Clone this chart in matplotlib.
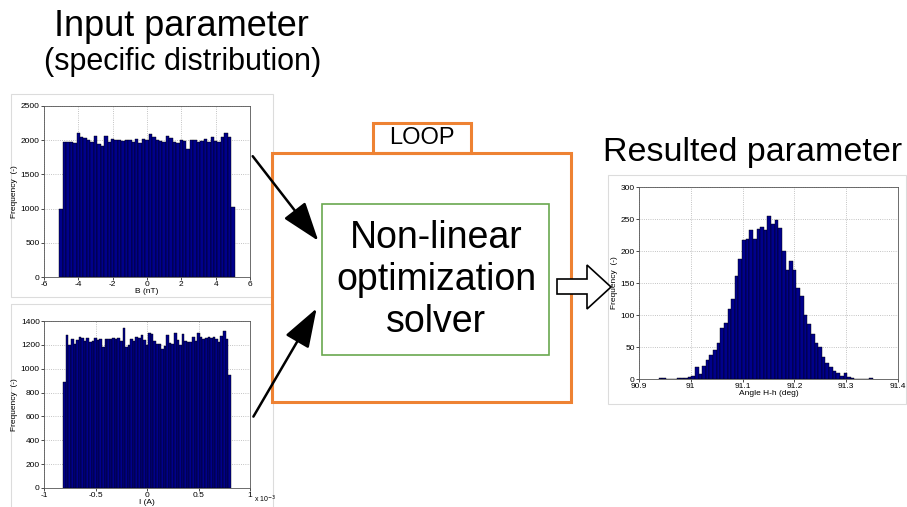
import numpy as np
import matplotlib
matplotlib.use("Agg")
import matplotlib.pyplot as plt
from matplotlib.patches import Rectangle, FancyArrowPatch, Polygon
from matplotlib.ticker import FuncFormatter

plt.rcParams['font.family'] = ['Liberation Sans', 'DejaVu Sans']
plt.rcParams['axes.unicode_minus'] = False

# input B (nT): uniform on [-5, 5], counts per bin
b_counts = [1000, 1980, 1970, 1975, 1960, 2100, 2050, 2030, 2000, 1980, 2060,
            1940, 1920, 2060, 1970, 2020, 2000, 2010, 1990, 2000, 2000, 1970,
            2020, 1960, 2020, 2010, 2090, 2050, 2010, 1990, 1970, 2060, 2030,
            1980, 1960, 2000, 1990, 1870, 2000, 2000, 1980, 1990, 2020, 1980,
            2040, 1990, 1980, 2050, 2100, 2050, 1020]
b_range = (-5, 5)

# input I (A): uniform on [-0.8e-3, 0.8e-3]
i_counts = [890, 1280, 1200, 1250, 1210, 1240, 1270, 1255, 1230, 1260, 1220,
            1230, 1260, 1240, 1250, 1180, 1245, 1245, 1250, 1260, 1245, 1260,
            1235, 1340, 1180, 1200, 1245, 1235, 1270, 1260, 1280, 1240, 1200,
            1300, 1290, 1230, 1210, 1205, 1165, 1190, 1280, 1215, 1210, 1300,
            1240, 1200, 1290, 1230, 1220, 1225, 1270, 1230, 1300, 1270, 1250,
            1260, 1270, 1255, 1270, 1245, 1220, 1275, 1320, 1250, 950]
i_range = (-0.8e-3, 0.8e-3)

# output angle H-h (deg)
angle_start = 90.938
angle_width = 0.007
angle_counts = [1, 1, 0, 0, 0, 1, 1, 2, 3, 5,
                18, 8, 20, 30, 38, 46, 56, 80, 88, 110, 125, 161, 187, 217, 218,
                233, 218, 234, 238, 233, 254,
                242, 248, 236, 200, 170, 185, 170, 142, 130, 100, 86, 70, 57,
                50, 35, 25, 18, 13, 10, 5, 10, 3, 1, 0, 0, 0, 0, 1]

W, H = 907, 507
BAR = '#00008B'
ORANGE = '#EE8233'
GREEN = '#6AA84F'


def px_axes(fig, x0, y0, x1, y1):
    # pixel box (top-left origin) -> figure axes
    return fig.add_axes([x0 / W, 1 - y1 / H, (x1 - x0) / W, (y1 - y0) / H])


def style_hist(ax, xlabel):
    ax.grid(True, linestyle=':', color='#b0b0b0', linewidth=0.6)
    ax.set_axisbelow(True)
    ax.tick_params(labelsize=6, length=2, width=0.5, pad=1)
    for s in ax.spines.values():
        s.set_linewidth(0.6)
        s.set_color('#555555')
    ax.set_xlabel(xlabel, fontsize=6, labelpad=0)
    ax.set_ylabel('Frequency  (-)', fontsize=6, labelpad=2)


fig = plt.figure(figsize=(W / 100, H / 100), dpi=100)

# panel frames
bg = fig.add_axes([0, 0, 1, 1])
bg.set_xlim(0, W)
bg.set_ylim(H, 0)
bg.axis('off')
for x0, y0, x1, y1 in [(11, 94, 273, 297), (11, 304, 273, 520), (608, 175, 906, 404)]:
    bg.add_patch(Rectangle((x0, y0), x1 - x0, y1 - y0, fill=False,
                           edgecolor='#dcdcdc', linewidth=0.8))

# B histogram
ax1 = px_axes(fig, 44, 106, 250, 277)
xb = np.linspace(b_range[0], b_range[1], len(b_counts))
ax1.bar(xb, b_counts, width=xb[1] - xb[0], color=BAR, edgecolor='black', linewidth=0.3)
ax1.set_xlim(-6, 6)
ax1.set_ylim(0, 2500)
ax1.set_xticks(np.arange(-6, 7, 2))
ax1.set_yticks(np.arange(0, 2501, 500))
style_hist(ax1, 'B (nT)')

# I histogram
ax2 = px_axes(fig, 44, 321, 250, 488)
xi = np.linspace(i_range[0], i_range[1], len(i_counts))
ax2.bar(xi, i_counts, width=xi[1] - xi[0], color=BAR, edgecolor='black', linewidth=0.3)
ax2.set_xlim(-1e-3, 1e-3)
ax2.set_ylim(0, 1400)
ax2.set_xticks(np.arange(-1e-3, 1.01e-3, 0.5e-3))
ax2.set_yticks(np.arange(0, 1401, 200))
ax2.xaxis.set_major_formatter(FuncFormatter(lambda v, _: f"{v * 1e3:g}"))
style_hist(ax2, 'I (A)')
ax2.text(1.02, -0.066, r'x 10$^{-3}$', transform=ax2.transAxes, fontsize=5,
         ha='left', va='center')

# angle histogram
ax3 = px_axes(fig, 639, 187, 898, 379)
edges = angle_start + angle_width * np.arange(len(angle_counts) + 1)
ax3.bar(edges[:-1], angle_counts, width=angle_width, align='edge', color=BAR,
        edgecolor='black', linewidth=0.3)
ax3.set_xlim(90.9, 91.4)
ax3.set_ylim(0, 300)
ax3.set_xticks(np.arange(90.9, 91.41, 0.1))
ax3.set_yticks(np.arange(0, 301, 50))
ax3.xaxis.set_major_formatter(FuncFormatter(lambda v, _: f"{v:g}"))
style_hist(ax3, 'Angle H-h (deg)')

# diagram overlay
ov = fig.add_axes([0, 0, 1, 1])
ov.set_xlim(0, W)
ov.set_ylim(H, 0)
ov.axis('off')
ov.patch.set_alpha(0)

ov.text(181, 26, 'Input parameter', fontsize=26, ha='center', va='center')
ov.text(183, 62, '(specific distribution)', fontsize=22, ha='center', va='center')
ov.text(753, 153, 'Resulted parameter', fontsize=24.5, ha='center', va='center')

ov.add_patch(Rectangle((373, 123), 98, 30, fill=False, edgecolor=ORANGE, linewidth=2.2))
ov.add_patch(Rectangle((272, 153), 299, 249, fill=False, edgecolor=ORANGE, linewidth=2.2))
ov.text(422, 138, 'LOOP', fontsize=17, ha='center', va='center')

ov.add_patch(Rectangle((322, 204), 227, 151, fill=False, edgecolor=GREEN, linewidth=1.2))
ov.text(436, 280, 'Non-linear\noptimization\nsolver', fontsize=27, ha='center',
        va='center', linespacing=1.2)

for start, end in [((251, 154), (320, 243)), ((252, 419), (318, 306))]:
    ov.add_patch(FancyArrowPatch(start, end, arrowstyle='-|>,head_length=1.1,head_width=0.38',
                                 mutation_scale=22, color='black', linewidth=1.8))

# hollow block arrow to the result
ov.add_patch(Polygon([(557, 279), (587, 279), (587, 265), (611, 287),
                      (587, 309), (587, 294), (557, 294)], closed=True,
                     facecolor='white', edgecolor='black', linewidth=1.2))

fig.savefig('out.png', dpi=100)
